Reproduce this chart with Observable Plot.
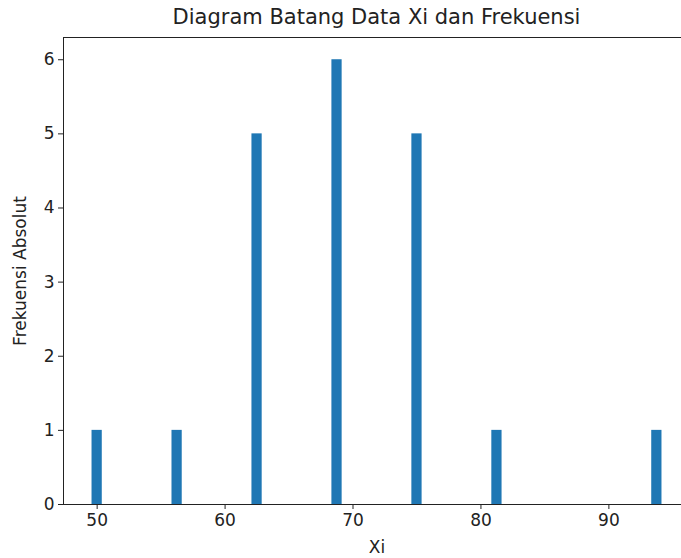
<!DOCTYPE html>
<html>
<head>
<meta charset="utf-8">
<script src="https://cdn.jsdelivr.net/npm/d3@7"></script>
<script src="https://cdn.jsdelivr.net/npm/@observablehq/plot@0.6"></script>
<style>
  html, body { margin: 0; padding: 0; background: #fff; overflow: hidden; }
  #wrap { position: relative; width: 681px; height: 558px; overflow: hidden; }
  #title { position: absolute; top: 4px; left: 376.5px; transform: translateX(-50%);
    font-family: "DejaVu Sans", sans-serif; font-size: 21px; line-height: 26px; color: #222; white-space: nowrap; }
  #chart { position: absolute; top: 0; left: 0; width: 700px; }
  #chart svg { max-width: none !important; }
</style>
</head>
<body>
<div id="wrap">
  <div id="title">Diagram Batang Data Xi dan Frekuensi</div>
  <div id="chart"></div>
</div>
<script>
const xi = [50, 56.25, 62.5, 68.75, 75, 81.25, 93.75];
const frekuensi = [1, 1, 5, 6, 5, 1, 1];
const xTicks = [50, 60, 70, 80, 90];
const yTicks = [0, 1, 2, 3, 4, 5, 6];
const barWidth = 0.8;

const data = xi.map((x, i) => ({ x, f: frekuensi[i] }));

const chart = Plot.plot({
  width: 700,
  height: 558,
  marginTop: 37,
  marginBottom: 54,
  marginLeft: 63,
  marginRight: 10,
  style: { fontFamily: "DejaVu Sans, sans-serif", fontSize: "17px", color: "#222", background: "transparent", maxWidth: "none" },
  x: { domain: [47.37, 96.38], ticks: xTicks, tickFormat: d3.format("d"), tickSize: 5, tickPadding: 4, label: "Xi",
       labelAnchor: "center", labelArrow: "none", labelOffset: 48 },
  y: { domain: [0, 6.3], ticks: yTicks, tickFormat: d3.format("d"), tickSize: 5, tickPadding: 4, label: "Frekuensi Absolut",
       labelAnchor: "center", labelArrow: "none", labelOffset: 50 },
  marks: [
    Plot.rectY(data, { x1: d => d.x - barWidth / 2, x2: d => d.x + barWidth / 2, y1: 0, y2: "f", fill: "#1f77b4" }),
    Plot.frame({ anchor: "top", stroke: "#222", strokeWidth: 1 }),
    Plot.frame({ anchor: "left", stroke: "#222", strokeWidth: 1 }),
    Plot.frame({ anchor: "bottom", stroke: "#222", strokeWidth: 1 })
  ]
});
document.getElementById("chart").appendChild(chart);
</script>
</body>
</html>
